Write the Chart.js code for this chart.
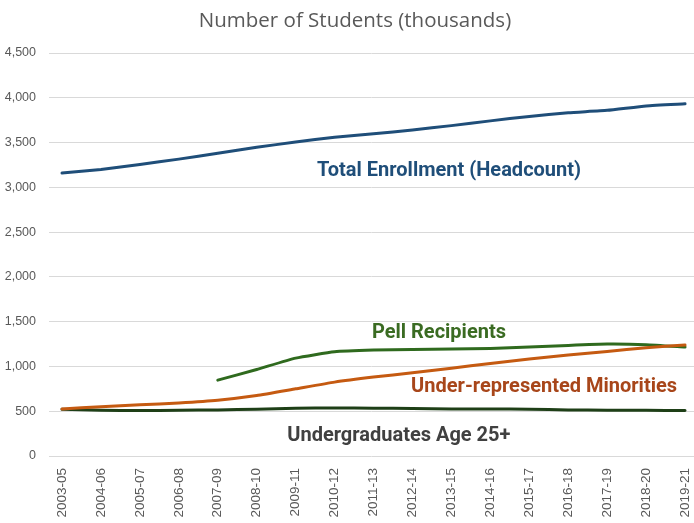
<!DOCTYPE html>
<html>
<head>
<meta charset="utf-8">
<script src="https://cdn.jsdelivr.net/npm/chart.js@4.4.1/dist/chart.umd.min.js"></script>
<style>
  html, body { margin: 0; padding: 0; background: #ffffff; }
  #wrap { width: 694px; height: 523px; position: relative; }
</style>
</head>
<body>
<div id="wrap"><canvas id="c" width="694" height="523"></canvas></div>
<script>
const categories = ["2003-05","2004-06","2005-07","2006-08","2007-09","2008-10","2009-11","2010-12","2011-13","2012-14","2013-15","2014-16","2015-17","2016-18","2017-19","2018-20","2019-21"];
const totalEnrollment = [3160,3200,3255,3315,3380,3448,3505,3560,3598,3640,3689,3742,3792,3833,3860,3909,3932];
const pellRecipients = [null,null,null,null,847,966,1093,1164,1183,1190,1194,1201,1216,1235,1250,1243,1216];
const underrepMinorities = [526,549,571,593,623,675,750,825,881,929,981,1034,1082,1127,1168,1209,1239];
const age25Plus = [522,511,507,511,515,522,534,537,534,530,526,526,522,515,511,511,507];
const yTicks = [0,500,1000,1500,2000,2500,3000,3500,4000,4500];
const chartTitle = "Number of Students (thousands)";
const seriesLabels = [
  { text: "Total Enrollment (Headcount)", x: 9.94, y: 3182, color: "#1F4E79" },
  { text: "Pell Recipients", x: 9.68, y: 1373, color: "#3A6B22" },
  { text: "Under-represented Minorities", x: 12.38, y: 770, color: "#A8461A" },
  { text: "Undergraduates Age 25+", x: 8.65, y: 223, color: "#404040" }
];

function toPoints(arr) {
  return arr.map((v, i) => ({ x: i, y: v }));
}

const labelPlugin = {
  id: 'seriesLabels',
  afterDatasetsDraw(chart) {
    const ctx = chart.ctx;
    const xs = chart.scales.x, ys = chart.scales.y;
    ctx.save();
    ctx.font = "bold 20px Roboto, 'DejaVu Sans', sans-serif";
    ctx.textAlign = 'center';
    ctx.textBaseline = 'middle';
    seriesLabels.forEach(l => {
      ctx.fillStyle = l.color;
      ctx.fillText(l.text, xs.getPixelForValue(l.x), ys.getPixelForValue(l.y));
    });
    ctx.restore();
  }
};

const titlePlugin = {
  id: 'customTitle',
  afterDraw(chart) {
    const ctx = chart.ctx;
    ctx.save();
    ctx.font = "20.5px 'Open Sans', 'Noto Sans', sans-serif";
    ctx.fillStyle = '#595959';
    ctx.textAlign = 'center';
    ctx.textBaseline = 'middle';
    ctx.fillText(chartTitle, 355, 21);
    ctx.restore();
  }
};

new Chart(document.getElementById('c'), {
  type: 'line',
  data: {
    datasets: [
      { label: 'Total Enrollment (Headcount)', data: toPoints(totalEnrollment), borderColor: '#1F4E79', backgroundColor: '#1F4E79' },
      { label: 'Under-represented Minorities', data: toPoints(underrepMinorities), borderColor: '#C55A11', backgroundColor: '#C55A11' },
      { label: 'Undergraduates Age 25+', data: toPoints(age25Plus), borderColor: '#1E3F17', backgroundColor: '#1E3F17' },
      { label: 'Pell Recipients', data: toPoints(pellRecipients), borderColor: '#2F6A1E', backgroundColor: '#2F6A1E' }
    ]
  },
  options: {
    responsive: false,
    animation: false,
    devicePixelRatio: 1,
    layout: { padding: { top: 53, right: 0, left: 0, bottom: 0 } },
    elements: {
      line: { borderWidth: 3, tension: 0.15, borderCapStyle: 'round', borderJoinStyle: 'round' },
      point: { radius: 0, hoverRadius: 0 }
    },
    spanGaps: false,
    plugins: {
      legend: { display: false },
      title: { display: false },
      tooltip: { enabled: false }
    },
    scales: {
      x: {
        type: 'linear',
        min: -0.334,
        max: 16.23,
        grid: { display: false, drawTicks: false },
        border: { display: false },
        afterBuildTicks(scale) {
          scale.ticks = categories.map((c, i) => ({ value: i }));
        },
        afterFit(scale) { scale.height = 67; scale.paddingLeft = 0; scale.paddingRight = 0; },
        ticks: {
          autoSkip: false,
          minRotation: 90,
          maxRotation: 90,
          padding: 12,
          color: '#595959',
          font: { family: "'Liberation Sans', Arial, sans-serif", size: 13.5 },
          callback: (v) => categories[v] !== undefined ? categories[v] : ''
        }
      },
      y: {
        min: 0,
        max: 4500,
        grid: { color: '#D9D9D9', lineWidth: 1, drawTicks: false },
        border: { display: false },
        afterBuildTicks(scale) {
          scale.ticks = yTicks.map(v => ({ value: v }));
        },
        afterFit(scale) { scale.width = 49; },
        ticks: {
          padding: 13,
          color: '#595959',
          font: { family: "'Liberation Sans', Arial, sans-serif", size: 12.5 },
          callback: (v) => v.toLocaleString('en-US')
        }
      }
    }
  },
  plugins: [labelPlugin, titlePlugin]
});
</script>
</body>
</html>
